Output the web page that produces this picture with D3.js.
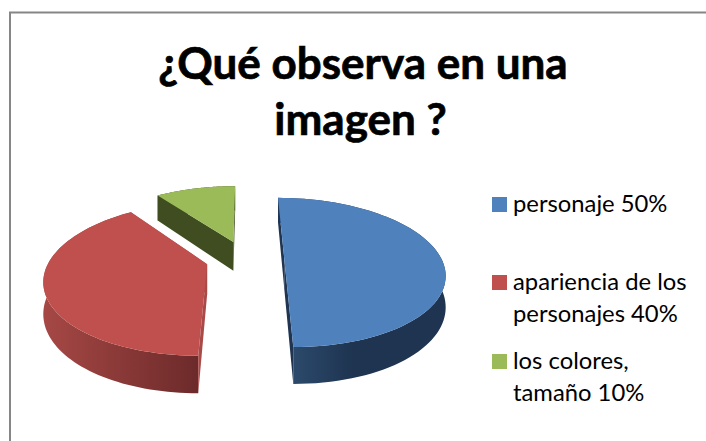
<!DOCTYPE html>
<html><head><meta charset="utf-8">
<script src="https://cdn.jsdelivr.net/npm/d3@7"></script>
<style>html,body{margin:0;padding:0;background:#fff}svg{display:block}text{font-family:Lato,"Open Sans",sans-serif;fill:#000}</style>
</head><body><svg id="c" width="706" height="441"></svg>
<script>
const categories = ["personaje 50%", "apariencia de los personajes 40%", "los colores, tamaño 10%"];
const values = [50, 40, 10];
const legendLines = [["personaje 50%"], ["apariencia de los", "personajes 40%"], ["los colores,", "tamaño 10%"]];
const titleLines = ["¿Qué observa en una", "imagen ?"];
const topColors = ["#4f81bd", "#c0504d", "#9bbb59"];
const radialWallColors = ["#1f3552", "#a84a47", "#3f4d20"];
const rimStops = [["#2f4f73", "#1e3450"], ["#a64845", "#6c2a2a"], ["#4a5a26", "#3f4d20"]];

const svg = d3.select("#c");
const defs = svg.append("defs");
const Cx = 245, Cy = 258.5, Rx = 157, Ry = 72, P = 0.187, Depth = 30, Explode = 0.25;

const pie = d3.pie().sort(null)(values);

// frame
svg.append("path").attr("d", "M10,441V12.5H706").attr("fill", "none").attr("stroke", "#868686").attr("stroke-width", 2);

function proj(d, r, theta, z) {
  const mid = (d.startAngle + d.endAngle) / 2;
  const a = r * Math.sin(theta) + Explode * Math.sin(mid);
  const b = -r * Math.cos(theta) - Explode * Math.cos(mid);
  const w = 1 / (1 - P * b);
  return [Cx + Rx * a * w, Cy + (Ry * b + Depth * z) * w];
}
const line = d3.line();
const drawOrder = [2, 0, 1];
drawOrder.forEach(i => {
  const d = pie[i];
  const angles = d3.range(0, 81).map(k => d.startAngle + (d.endAngle - d.startAngle) * k / 80);
  const g = svg.append("g");
  const rimTop = angles.map(t => proj(d, 1, t, 0));
  const rimBot = angles.map(t => proj(d, 1, t, 1));
  const xs = rimTop.map(p => p[0]);
  const grad = defs.append("linearGradient").attr("id", "rim" + i)
    .attr("gradientUnits", "userSpaceOnUse")
    .attr("x1", d3.min(xs)).attr("x2", i === 1 ? proj(d, 1, d.startAngle, 0)[0] : d3.max(xs)).attr("y1", 0).attr("y2", 0);
  grad.append("stop").attr("offset", 0).attr("stop-color", rimStops[i][0]);
  grad.append("stop").attr("offset", i === 0 ? 0.45 : 1).attr("stop-color", rimStops[i][1]);
  g.append("path").attr("d", line(rimTop.concat(rimBot.slice().reverse())) + "Z").attr("fill", `url(#rim${i})`);
  [d.startAngle, d.endAngle].forEach(t => {
    const pts = [proj(d, 0, t, 0), proj(d, 1, t, 0), proj(d, 1, t, 1), proj(d, 0, t, 1)];
    g.append("path").attr("d", line(pts) + "Z").attr("fill", radialWallColors[i]);
  });
  g.append("path").attr("d", line([proj(d, 0, 0, 0)].concat(rimTop)) + "Z").attr("fill", topColors[i]);
});

// title
svg.selectAll("text.title").data(titleLines).join("text").attr("class", "title")
  .attr("x", (d, i) => i ? 360.5 : 363).attr("y", (d, i) => 79 + i * 56)
  .attr("text-anchor", "middle").attr("font-size", 44).attr("font-weight", 700)
  .attr("stroke", "#000").attr("stroke-width", 0.7).text(d => d);

// legend
const swatchY = d3.scaleOrdinal().domain(categories).range([197, 275, 354]);
const leg = svg.append("g");
categories.forEach((c, i) => {
  leg.append("rect").attr("x", 492).attr("y", swatchY(c)).attr("width", 15).attr("height", 15).attr("fill", topColors[i]);
  legendLines[i].forEach((t, j) => {
    leg.append("text").attr("x", 513).attr("y", swatchY(c) + 15 + j * 32).attr("font-size", 23.8).text(t);
  });
});
</script></body></html>
